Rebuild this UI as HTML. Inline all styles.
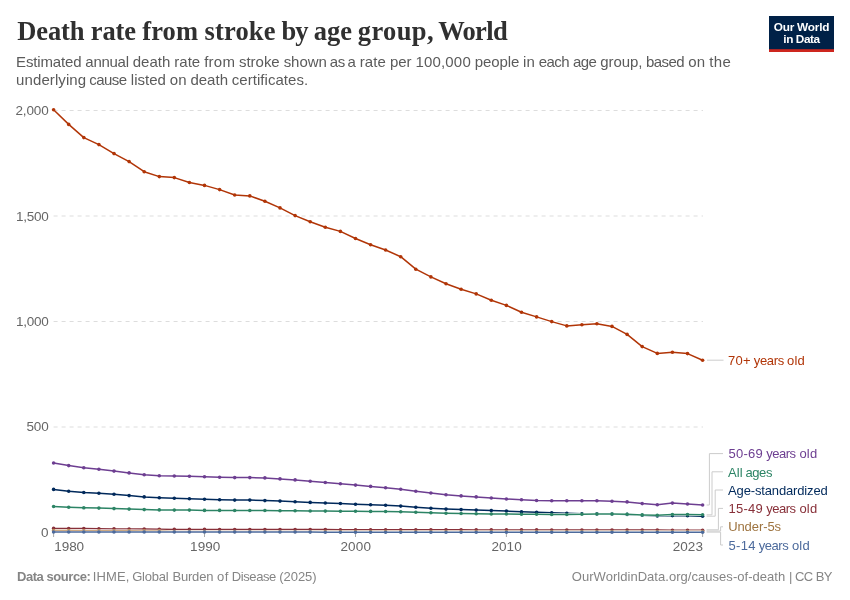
<!DOCTYPE html>
<html lang="en"><head><meta charset="utf-8"><title>Death rate from stroke by age group, World</title>
<style>html,body{margin:0;padding:0;background:#fff}body{width:850px;height:600px;overflow:hidden}svg text{white-space:pre}</style>
</head><body>
<svg width="850" height="600" viewBox="0 0 850 600" style="display:block;font-family:'Liberation Sans', sans-serif">
<rect width="850" height="600" fill="#fff"/>
<rect x="769" y="16" width="65" height="36" fill="#002147"/><rect x="769" y="49.2" width="65" height="2.8" fill="#CE261E"/>
<text x="801.5" y="30.6" text-anchor="middle" font-weight="700" font-size="11.8" fill="#fff" letter-spacing="-0.2">Our World</text>
<text x="801.5" y="42.6" text-anchor="middle" font-weight="700" font-size="11.8" fill="#fff" letter-spacing="-0.42">in Data</text>
<line x1="53.6" x2="703" y1="110.5" y2="110.5" stroke="#ddd" stroke-width="1" stroke-dasharray="4,4"/>
<line x1="53.6" x2="703" y1="216" y2="216" stroke="#ddd" stroke-width="1" stroke-dasharray="4,4"/>
<line x1="53.6" x2="703" y1="321.5" y2="321.5" stroke="#ddd" stroke-width="1" stroke-dasharray="4,4"/>
<line x1="53.6" x2="703" y1="427" y2="427" stroke="#ddd" stroke-width="1" stroke-dasharray="4,4"/>
<line x1="53.6" x2="703" y1="532.5" y2="532.5" stroke="#999" stroke-width="1"/>
<line x1="53.6" x2="53.6" y1="532.5" y2="537" stroke="#aaa" stroke-width="1"/>
<line x1="204.5" x2="204.5" y1="532.5" y2="537" stroke="#aaa" stroke-width="1"/>
<line x1="355.5" x2="355.5" y1="532.5" y2="537" stroke="#aaa" stroke-width="1"/>
<line x1="506.4" x2="506.4" y1="532.5" y2="537" stroke="#aaa" stroke-width="1"/>
<line x1="702.6" x2="702.6" y1="532.5" y2="537" stroke="#aaa" stroke-width="1"/>
<path d="M707,360.2H723.5" fill="none" stroke="#ccc" stroke-width="1"/>
<path d="M706.6,505H709.4V453.6H723" fill="none" stroke="#ccc" stroke-width="1"/>
<path d="M706.6,514.8H712V471.8H723" fill="none" stroke="#ccc" stroke-width="1"/>
<path d="M706.6,516.2H715.2V490H723" fill="none" stroke="#ccc" stroke-width="1"/>
<path d="M706.6,529.8H718.4V508.4H723" fill="none" stroke="#ccc" stroke-width="1"/>
<path d="M706.6,531H720.6V526.8H723" fill="none" stroke="#ccc" stroke-width="1"/>
<path d="M706.6,532.1H720.6V545H723" fill="none" stroke="#ccc" stroke-width="1"/>
<g fill="none" stroke-linejoin="round"><polyline points="53.6,109.8 68.7,124.4 83.8,137.6 98.9,144.6 114.0,153.6 129.1,161.6 144.2,171.7 159.3,176.6 174.3,177.6 189.4,182.5 204.5,185.4 219.6,189.6 234.7,195.0 249.8,195.9 264.9,201.3 280.0,207.9 295.1,215.6 310.2,221.8 325.3,227.2 340.4,231.4 355.5,238.5 370.6,244.8 385.6,250.0 400.7,256.7 415.8,269.2 430.9,276.9 446.0,283.8 461.1,289.2 476.2,293.9 491.3,300.2 506.4,305.4 521.5,312.2 536.6,316.9 551.7,321.6 566.8,325.9 581.9,324.7 596.9,323.8 612.0,326.4 627.1,334.4 642.2,346.6 657.3,353.4 672.4,352.2 687.5,353.6 702.6,360.2" stroke="#fff" stroke-width="2.5"/><polyline points="53.6,109.8 68.7,124.4 83.8,137.6 98.9,144.6 114.0,153.6 129.1,161.6 144.2,171.7 159.3,176.6 174.3,177.6 189.4,182.5 204.5,185.4 219.6,189.6 234.7,195.0 249.8,195.9 264.9,201.3 280.0,207.9 295.1,215.6 310.2,221.8 325.3,227.2 340.4,231.4 355.5,238.5 370.6,244.8 385.6,250.0 400.7,256.7 415.8,269.2 430.9,276.9 446.0,283.8 461.1,289.2 476.2,293.9 491.3,300.2 506.4,305.4 521.5,312.2 536.6,316.9 551.7,321.6 566.8,325.9 581.9,324.7 596.9,323.8 612.0,326.4 627.1,334.4 642.2,346.6 657.3,353.4 672.4,352.2 687.5,353.6 702.6,360.2" stroke="#B13507" stroke-width="1.5"/></g>
<g fill="#B13507"><circle cx="53.6" cy="109.8" r="1.8"/><circle cx="68.7" cy="124.4" r="1.8"/><circle cx="83.8" cy="137.6" r="1.8"/><circle cx="98.9" cy="144.6" r="1.8"/><circle cx="114.0" cy="153.6" r="1.8"/><circle cx="129.1" cy="161.6" r="1.8"/><circle cx="144.2" cy="171.7" r="1.8"/><circle cx="159.3" cy="176.6" r="1.8"/><circle cx="174.3" cy="177.6" r="1.8"/><circle cx="189.4" cy="182.5" r="1.8"/><circle cx="204.5" cy="185.4" r="1.8"/><circle cx="219.6" cy="189.6" r="1.8"/><circle cx="234.7" cy="195.0" r="1.8"/><circle cx="249.8" cy="195.9" r="1.8"/><circle cx="264.9" cy="201.3" r="1.8"/><circle cx="280.0" cy="207.9" r="1.8"/><circle cx="295.1" cy="215.6" r="1.8"/><circle cx="310.2" cy="221.8" r="1.8"/><circle cx="325.3" cy="227.2" r="1.8"/><circle cx="340.4" cy="231.4" r="1.8"/><circle cx="355.5" cy="238.5" r="1.8"/><circle cx="370.6" cy="244.8" r="1.8"/><circle cx="385.6" cy="250.0" r="1.8"/><circle cx="400.7" cy="256.7" r="1.8"/><circle cx="415.8" cy="269.2" r="1.8"/><circle cx="430.9" cy="276.9" r="1.8"/><circle cx="446.0" cy="283.8" r="1.8"/><circle cx="461.1" cy="289.2" r="1.8"/><circle cx="476.2" cy="293.9" r="1.8"/><circle cx="491.3" cy="300.2" r="1.8"/><circle cx="506.4" cy="305.4" r="1.8"/><circle cx="521.5" cy="312.2" r="1.8"/><circle cx="536.6" cy="316.9" r="1.8"/><circle cx="551.7" cy="321.6" r="1.8"/><circle cx="566.8" cy="325.9" r="1.8"/><circle cx="581.9" cy="324.7" r="1.8"/><circle cx="596.9" cy="323.8" r="1.8"/><circle cx="612.0" cy="326.4" r="1.8"/><circle cx="627.1" cy="334.4" r="1.8"/><circle cx="642.2" cy="346.6" r="1.8"/><circle cx="657.3" cy="353.4" r="1.8"/><circle cx="672.4" cy="352.2" r="1.8"/><circle cx="687.5" cy="353.6" r="1.8"/><circle cx="702.6" cy="360.2" r="1.8"/></g>
<g fill="none" stroke-linejoin="round"><polyline points="53.6,463.0 68.7,465.6 83.8,467.7 98.9,469.2 114.0,471.1 129.1,472.9 144.2,474.7 159.3,475.7 174.3,476.0 189.4,476.2 204.5,476.7 219.6,477.2 234.7,477.6 249.8,477.6 264.9,477.9 280.0,478.9 295.1,479.9 310.2,481.2 325.3,482.5 340.4,483.8 355.5,485.1 370.6,486.4 385.6,487.7 400.7,489.2 415.8,491.2 430.9,493.0 446.0,494.8 461.1,495.9 476.2,496.9 491.3,498.0 506.4,499.0 521.5,499.8 536.6,500.5 551.7,500.8 566.8,500.8 581.9,500.8 596.9,500.8 612.0,501.2 627.1,501.9 642.2,503.6 657.3,504.7 672.4,503.1 687.5,504.0 702.6,505.0" stroke="#fff" stroke-width="2.5"/><polyline points="53.6,463.0 68.7,465.6 83.8,467.7 98.9,469.2 114.0,471.1 129.1,472.9 144.2,474.7 159.3,475.7 174.3,476.0 189.4,476.2 204.5,476.7 219.6,477.2 234.7,477.6 249.8,477.6 264.9,477.9 280.0,478.9 295.1,479.9 310.2,481.2 325.3,482.5 340.4,483.8 355.5,485.1 370.6,486.4 385.6,487.7 400.7,489.2 415.8,491.2 430.9,493.0 446.0,494.8 461.1,495.9 476.2,496.9 491.3,498.0 506.4,499.0 521.5,499.8 536.6,500.5 551.7,500.8 566.8,500.8 581.9,500.8 596.9,500.8 612.0,501.2 627.1,501.9 642.2,503.6 657.3,504.7 672.4,503.1 687.5,504.0 702.6,505.0" stroke="#6D3E91" stroke-width="1.5"/></g>
<g fill="#6D3E91"><circle cx="53.6" cy="463.0" r="1.8"/><circle cx="68.7" cy="465.6" r="1.8"/><circle cx="83.8" cy="467.7" r="1.8"/><circle cx="98.9" cy="469.2" r="1.8"/><circle cx="114.0" cy="471.1" r="1.8"/><circle cx="129.1" cy="472.9" r="1.8"/><circle cx="144.2" cy="474.7" r="1.8"/><circle cx="159.3" cy="475.7" r="1.8"/><circle cx="174.3" cy="476.0" r="1.8"/><circle cx="189.4" cy="476.2" r="1.8"/><circle cx="204.5" cy="476.7" r="1.8"/><circle cx="219.6" cy="477.2" r="1.8"/><circle cx="234.7" cy="477.6" r="1.8"/><circle cx="249.8" cy="477.6" r="1.8"/><circle cx="264.9" cy="477.9" r="1.8"/><circle cx="280.0" cy="478.9" r="1.8"/><circle cx="295.1" cy="479.9" r="1.8"/><circle cx="310.2" cy="481.2" r="1.8"/><circle cx="325.3" cy="482.5" r="1.8"/><circle cx="340.4" cy="483.8" r="1.8"/><circle cx="355.5" cy="485.1" r="1.8"/><circle cx="370.6" cy="486.4" r="1.8"/><circle cx="385.6" cy="487.7" r="1.8"/><circle cx="400.7" cy="489.2" r="1.8"/><circle cx="415.8" cy="491.2" r="1.8"/><circle cx="430.9" cy="493.0" r="1.8"/><circle cx="446.0" cy="494.8" r="1.8"/><circle cx="461.1" cy="495.9" r="1.8"/><circle cx="476.2" cy="496.9" r="1.8"/><circle cx="491.3" cy="498.0" r="1.8"/><circle cx="506.4" cy="499.0" r="1.8"/><circle cx="521.5" cy="499.8" r="1.8"/><circle cx="536.6" cy="500.5" r="1.8"/><circle cx="551.7" cy="500.8" r="1.8"/><circle cx="566.8" cy="500.8" r="1.8"/><circle cx="581.9" cy="500.8" r="1.8"/><circle cx="596.9" cy="500.8" r="1.8"/><circle cx="612.0" cy="501.2" r="1.8"/><circle cx="627.1" cy="501.9" r="1.8"/><circle cx="642.2" cy="503.6" r="1.8"/><circle cx="657.3" cy="504.7" r="1.8"/><circle cx="672.4" cy="503.1" r="1.8"/><circle cx="687.5" cy="504.0" r="1.8"/><circle cx="702.6" cy="505.0" r="1.8"/></g>
<g fill="none" stroke-linejoin="round"><polyline points="53.6,489.4 68.7,491.2 83.8,492.5 98.9,493.3 114.0,494.3 129.1,495.6 144.2,496.9 159.3,497.7 174.3,498.2 189.4,498.7 204.5,499.2 219.6,499.7 234.7,500.1 249.8,500.1 264.9,500.6 280.0,501.1 295.1,501.7 310.2,502.4 325.3,503.0 340.4,503.5 355.5,504.3 370.6,504.8 385.6,505.3 400.7,506.1 415.8,507.3 430.9,508.3 446.0,509.1 461.1,509.6 476.2,510.1 491.3,510.6 506.4,511.1 521.5,511.7 536.6,512.2 551.7,512.8 566.8,513.3 581.9,513.7 596.9,513.9 612.0,514.0 627.1,514.4 642.2,515.2 657.3,515.9 672.4,515.6 687.5,515.7 702.6,516.2" stroke="#fff" stroke-width="2.5"/><polyline points="53.6,489.4 68.7,491.2 83.8,492.5 98.9,493.3 114.0,494.3 129.1,495.6 144.2,496.9 159.3,497.7 174.3,498.2 189.4,498.7 204.5,499.2 219.6,499.7 234.7,500.1 249.8,500.1 264.9,500.6 280.0,501.1 295.1,501.7 310.2,502.4 325.3,503.0 340.4,503.5 355.5,504.3 370.6,504.8 385.6,505.3 400.7,506.1 415.8,507.3 430.9,508.3 446.0,509.1 461.1,509.6 476.2,510.1 491.3,510.6 506.4,511.1 521.5,511.7 536.6,512.2 551.7,512.8 566.8,513.3 581.9,513.7 596.9,513.9 612.0,514.0 627.1,514.4 642.2,515.2 657.3,515.9 672.4,515.6 687.5,515.7 702.6,516.2" stroke="#00295B" stroke-width="1.5"/></g>
<g fill="#00295B"><circle cx="53.6" cy="489.4" r="1.8"/><circle cx="68.7" cy="491.2" r="1.8"/><circle cx="83.8" cy="492.5" r="1.8"/><circle cx="98.9" cy="493.3" r="1.8"/><circle cx="114.0" cy="494.3" r="1.8"/><circle cx="129.1" cy="495.6" r="1.8"/><circle cx="144.2" cy="496.9" r="1.8"/><circle cx="159.3" cy="497.7" r="1.8"/><circle cx="174.3" cy="498.2" r="1.8"/><circle cx="189.4" cy="498.7" r="1.8"/><circle cx="204.5" cy="499.2" r="1.8"/><circle cx="219.6" cy="499.7" r="1.8"/><circle cx="234.7" cy="500.1" r="1.8"/><circle cx="249.8" cy="500.1" r="1.8"/><circle cx="264.9" cy="500.6" r="1.8"/><circle cx="280.0" cy="501.1" r="1.8"/><circle cx="295.1" cy="501.7" r="1.8"/><circle cx="310.2" cy="502.4" r="1.8"/><circle cx="325.3" cy="503.0" r="1.8"/><circle cx="340.4" cy="503.5" r="1.8"/><circle cx="355.5" cy="504.3" r="1.8"/><circle cx="370.6" cy="504.8" r="1.8"/><circle cx="385.6" cy="505.3" r="1.8"/><circle cx="400.7" cy="506.1" r="1.8"/><circle cx="415.8" cy="507.3" r="1.8"/><circle cx="430.9" cy="508.3" r="1.8"/><circle cx="446.0" cy="509.1" r="1.8"/><circle cx="461.1" cy="509.6" r="1.8"/><circle cx="476.2" cy="510.1" r="1.8"/><circle cx="491.3" cy="510.6" r="1.8"/><circle cx="506.4" cy="511.1" r="1.8"/><circle cx="521.5" cy="511.7" r="1.8"/><circle cx="536.6" cy="512.2" r="1.8"/><circle cx="551.7" cy="512.8" r="1.8"/><circle cx="566.8" cy="513.3" r="1.8"/><circle cx="581.9" cy="513.7" r="1.8"/><circle cx="596.9" cy="513.9" r="1.8"/><circle cx="612.0" cy="514.0" r="1.8"/><circle cx="627.1" cy="514.4" r="1.8"/><circle cx="642.2" cy="515.2" r="1.8"/><circle cx="657.3" cy="515.9" r="1.8"/><circle cx="672.4" cy="515.6" r="1.8"/><circle cx="687.5" cy="515.7" r="1.8"/><circle cx="702.6" cy="516.2" r="1.8"/></g>
<g fill="none" stroke-linejoin="round"><polyline points="53.6,506.5 68.7,507.3 83.8,507.8 98.9,508.1 114.0,508.6 129.1,509.1 144.2,509.6 159.3,509.9 174.3,510.1 189.4,510.1 204.5,510.4 219.6,510.4 234.7,510.5 249.8,510.5 264.9,510.5 280.0,510.7 295.1,510.8 310.2,511.0 325.3,511.1 340.4,511.2 355.5,511.2 370.6,511.4 385.6,511.5 400.7,511.7 415.8,512.2 430.9,512.7 446.0,513.2 461.1,513.5 476.2,513.7 491.3,514.0 506.4,514.0 521.5,514.3 536.6,514.3 551.7,514.5 566.8,514.5 581.9,514.3 596.9,514.0 612.0,514.0 627.1,514.3 642.2,514.9 657.3,515.2 672.4,514.6 687.5,514.6 702.6,514.8" stroke="#fff" stroke-width="2.5"/><polyline points="53.6,506.5 68.7,507.3 83.8,507.8 98.9,508.1 114.0,508.6 129.1,509.1 144.2,509.6 159.3,509.9 174.3,510.1 189.4,510.1 204.5,510.4 219.6,510.4 234.7,510.5 249.8,510.5 264.9,510.5 280.0,510.7 295.1,510.8 310.2,511.0 325.3,511.1 340.4,511.2 355.5,511.2 370.6,511.4 385.6,511.5 400.7,511.7 415.8,512.2 430.9,512.7 446.0,513.2 461.1,513.5 476.2,513.7 491.3,514.0 506.4,514.0 521.5,514.3 536.6,514.3 551.7,514.5 566.8,514.5 581.9,514.3 596.9,514.0 612.0,514.0 627.1,514.3 642.2,514.9 657.3,515.2 672.4,514.6 687.5,514.6 702.6,514.8" stroke="#2C8465" stroke-width="1.5"/></g>
<g fill="#2C8465"><circle cx="53.6" cy="506.5" r="1.8"/><circle cx="68.7" cy="507.3" r="1.8"/><circle cx="83.8" cy="507.8" r="1.8"/><circle cx="98.9" cy="508.1" r="1.8"/><circle cx="114.0" cy="508.6" r="1.8"/><circle cx="129.1" cy="509.1" r="1.8"/><circle cx="144.2" cy="509.6" r="1.8"/><circle cx="159.3" cy="509.9" r="1.8"/><circle cx="174.3" cy="510.1" r="1.8"/><circle cx="189.4" cy="510.1" r="1.8"/><circle cx="204.5" cy="510.4" r="1.8"/><circle cx="219.6" cy="510.4" r="1.8"/><circle cx="234.7" cy="510.5" r="1.8"/><circle cx="249.8" cy="510.5" r="1.8"/><circle cx="264.9" cy="510.5" r="1.8"/><circle cx="280.0" cy="510.7" r="1.8"/><circle cx="295.1" cy="510.8" r="1.8"/><circle cx="310.2" cy="511.0" r="1.8"/><circle cx="325.3" cy="511.1" r="1.8"/><circle cx="340.4" cy="511.2" r="1.8"/><circle cx="355.5" cy="511.2" r="1.8"/><circle cx="370.6" cy="511.4" r="1.8"/><circle cx="385.6" cy="511.5" r="1.8"/><circle cx="400.7" cy="511.7" r="1.8"/><circle cx="415.8" cy="512.2" r="1.8"/><circle cx="430.9" cy="512.7" r="1.8"/><circle cx="446.0" cy="513.2" r="1.8"/><circle cx="461.1" cy="513.5" r="1.8"/><circle cx="476.2" cy="513.7" r="1.8"/><circle cx="491.3" cy="514.0" r="1.8"/><circle cx="506.4" cy="514.0" r="1.8"/><circle cx="521.5" cy="514.3" r="1.8"/><circle cx="536.6" cy="514.3" r="1.8"/><circle cx="551.7" cy="514.5" r="1.8"/><circle cx="566.8" cy="514.5" r="1.8"/><circle cx="581.9" cy="514.3" r="1.8"/><circle cx="596.9" cy="514.0" r="1.8"/><circle cx="612.0" cy="514.0" r="1.8"/><circle cx="627.1" cy="514.3" r="1.8"/><circle cx="642.2" cy="514.9" r="1.8"/><circle cx="657.3" cy="515.2" r="1.8"/><circle cx="672.4" cy="514.6" r="1.8"/><circle cx="687.5" cy="514.6" r="1.8"/><circle cx="702.6" cy="514.8" r="1.8"/></g>
<g fill="none" stroke-linejoin="round"><polyline points="53.6,528.4 68.7,528.5 83.8,528.6 98.9,528.8 114.0,528.9 129.1,529.0 144.2,529.1 159.3,529.3 174.3,529.4 189.4,529.4 204.5,529.4 219.6,529.5 234.7,529.5 249.8,529.5 264.9,529.5 280.0,529.6 295.1,529.6 310.2,529.6 325.3,529.6 340.4,529.7 355.5,529.7 370.6,529.7 385.6,529.7 400.7,529.7 415.8,529.8 430.9,529.8 446.0,529.8 461.1,529.8 476.2,529.9 491.3,529.9 506.4,529.9 521.5,529.9 536.6,529.9 551.7,530.0 566.8,530.0 581.9,530.0 596.9,530.0 612.0,530.1 627.1,530.1 642.2,530.1 657.3,530.1 672.4,530.2 687.5,530.2 702.6,530.2" stroke="#fff" stroke-width="2.5"/><polyline points="53.6,528.4 68.7,528.5 83.8,528.6 98.9,528.8 114.0,528.9 129.1,529.0 144.2,529.1 159.3,529.3 174.3,529.4 189.4,529.4 204.5,529.4 219.6,529.5 234.7,529.5 249.8,529.5 264.9,529.5 280.0,529.6 295.1,529.6 310.2,529.6 325.3,529.6 340.4,529.7 355.5,529.7 370.6,529.7 385.6,529.7 400.7,529.7 415.8,529.8 430.9,529.8 446.0,529.8 461.1,529.8 476.2,529.9 491.3,529.9 506.4,529.9 521.5,529.9 536.6,529.9 551.7,530.0 566.8,530.0 581.9,530.0 596.9,530.0 612.0,530.1 627.1,530.1 642.2,530.1 657.3,530.1 672.4,530.2 687.5,530.2 702.6,530.2" stroke="#883039" stroke-width="1.5"/></g>
<g fill="#883039"><circle cx="53.6" cy="528.4" r="1.8"/><circle cx="68.7" cy="528.5" r="1.8"/><circle cx="83.8" cy="528.6" r="1.8"/><circle cx="98.9" cy="528.8" r="1.8"/><circle cx="114.0" cy="528.9" r="1.8"/><circle cx="129.1" cy="529.0" r="1.8"/><circle cx="144.2" cy="529.1" r="1.8"/><circle cx="159.3" cy="529.3" r="1.8"/><circle cx="174.3" cy="529.4" r="1.8"/><circle cx="189.4" cy="529.4" r="1.8"/><circle cx="204.5" cy="529.4" r="1.8"/><circle cx="219.6" cy="529.5" r="1.8"/><circle cx="234.7" cy="529.5" r="1.8"/><circle cx="249.8" cy="529.5" r="1.8"/><circle cx="264.9" cy="529.5" r="1.8"/><circle cx="280.0" cy="529.6" r="1.8"/><circle cx="295.1" cy="529.6" r="1.8"/><circle cx="310.2" cy="529.6" r="1.8"/><circle cx="325.3" cy="529.6" r="1.8"/><circle cx="340.4" cy="529.7" r="1.8"/><circle cx="355.5" cy="529.7" r="1.8"/><circle cx="370.6" cy="529.7" r="1.8"/><circle cx="385.6" cy="529.7" r="1.8"/><circle cx="400.7" cy="529.7" r="1.8"/><circle cx="415.8" cy="529.8" r="1.8"/><circle cx="430.9" cy="529.8" r="1.8"/><circle cx="446.0" cy="529.8" r="1.8"/><circle cx="461.1" cy="529.8" r="1.8"/><circle cx="476.2" cy="529.9" r="1.8"/><circle cx="491.3" cy="529.9" r="1.8"/><circle cx="506.4" cy="529.9" r="1.8"/><circle cx="521.5" cy="529.9" r="1.8"/><circle cx="536.6" cy="529.9" r="1.8"/><circle cx="551.7" cy="530.0" r="1.8"/><circle cx="566.8" cy="530.0" r="1.8"/><circle cx="581.9" cy="530.0" r="1.8"/><circle cx="596.9" cy="530.0" r="1.8"/><circle cx="612.0" cy="530.1" r="1.8"/><circle cx="627.1" cy="530.1" r="1.8"/><circle cx="642.2" cy="530.1" r="1.8"/><circle cx="657.3" cy="530.1" r="1.8"/><circle cx="672.4" cy="530.2" r="1.8"/><circle cx="687.5" cy="530.2" r="1.8"/><circle cx="702.6" cy="530.2" r="1.8"/></g>
<g fill="none" stroke-linejoin="round"><polyline points="53.6,530.6 68.7,530.6 83.8,530.7 98.9,530.7 114.0,530.8 129.1,530.8 144.2,530.9 159.3,530.9 174.3,531.5 189.4,531.6 204.5,531.6 219.6,531.6 234.7,531.6 249.8,531.6 264.9,531.6 280.0,531.6 295.1,531.6 310.2,531.6 325.3,531.6 340.4,531.6 355.5,531.6 370.6,531.6 385.6,531.6 400.7,531.6 415.8,531.6 430.9,531.6 446.0,531.6 461.1,531.6 476.2,531.6 491.3,531.6 506.4,531.6 521.5,531.6 536.6,531.6 551.7,531.6 566.8,531.6 581.9,531.6 596.9,531.6 612.0,531.6 627.1,531.6 642.2,531.6 657.3,531.6 672.4,531.6 687.5,531.6 702.6,531.6" stroke="#fff" stroke-width="2.5"/><polyline points="53.6,530.6 68.7,530.6 83.8,530.7 98.9,530.7 114.0,530.8 129.1,530.8 144.2,530.9 159.3,530.9 174.3,531.5 189.4,531.6 204.5,531.6 219.6,531.6 234.7,531.6 249.8,531.6 264.9,531.6 280.0,531.6 295.1,531.6 310.2,531.6 325.3,531.6 340.4,531.6 355.5,531.6 370.6,531.6 385.6,531.6 400.7,531.6 415.8,531.6 430.9,531.6 446.0,531.6 461.1,531.6 476.2,531.6 491.3,531.6 506.4,531.6 521.5,531.6 536.6,531.6 551.7,531.6 566.8,531.6 581.9,531.6 596.9,531.6 612.0,531.6 627.1,531.6 642.2,531.6 657.3,531.6 672.4,531.6 687.5,531.6 702.6,531.6" stroke="#BC8E5A" stroke-width="1.5"/></g>
<g fill="#BC8E5A"><circle cx="53.6" cy="530.6" r="1.8"/><circle cx="68.7" cy="530.6" r="1.8"/><circle cx="83.8" cy="530.7" r="1.8"/><circle cx="98.9" cy="530.7" r="1.8"/><circle cx="114.0" cy="530.8" r="1.8"/><circle cx="129.1" cy="530.8" r="1.8"/><circle cx="144.2" cy="530.9" r="1.8"/><circle cx="159.3" cy="530.9" r="1.8"/><circle cx="174.3" cy="531.5" r="1.8"/><circle cx="189.4" cy="531.6" r="1.8"/><circle cx="204.5" cy="531.6" r="1.8"/><circle cx="219.6" cy="531.6" r="1.8"/><circle cx="234.7" cy="531.6" r="1.8"/><circle cx="249.8" cy="531.6" r="1.8"/><circle cx="264.9" cy="531.6" r="1.8"/><circle cx="280.0" cy="531.6" r="1.8"/><circle cx="295.1" cy="531.6" r="1.8"/><circle cx="310.2" cy="531.6" r="1.8"/><circle cx="325.3" cy="531.6" r="1.8"/><circle cx="340.4" cy="531.6" r="1.8"/><circle cx="355.5" cy="531.6" r="1.8"/><circle cx="370.6" cy="531.6" r="1.8"/><circle cx="385.6" cy="531.6" r="1.8"/><circle cx="400.7" cy="531.6" r="1.8"/><circle cx="415.8" cy="531.6" r="1.8"/><circle cx="430.9" cy="531.6" r="1.8"/><circle cx="446.0" cy="531.6" r="1.8"/><circle cx="461.1" cy="531.6" r="1.8"/><circle cx="476.2" cy="531.6" r="1.8"/><circle cx="491.3" cy="531.6" r="1.8"/><circle cx="506.4" cy="531.6" r="1.8"/><circle cx="521.5" cy="531.6" r="1.8"/><circle cx="536.6" cy="531.6" r="1.8"/><circle cx="551.7" cy="531.6" r="1.8"/><circle cx="566.8" cy="531.6" r="1.8"/><circle cx="581.9" cy="531.6" r="1.8"/><circle cx="596.9" cy="531.6" r="1.8"/><circle cx="612.0" cy="531.6" r="1.8"/><circle cx="627.1" cy="531.6" r="1.8"/><circle cx="642.2" cy="531.6" r="1.8"/><circle cx="657.3" cy="531.6" r="1.8"/><circle cx="672.4" cy="531.6" r="1.8"/><circle cx="687.5" cy="531.6" r="1.8"/><circle cx="702.6" cy="531.6" r="1.8"/></g>
<g fill="none" stroke-linejoin="round"><polyline points="53.6,532.0 68.7,532.0 83.8,532.0 98.9,532.0 114.0,532.0 129.1,532.0 144.2,532.0 159.3,532.0 174.3,532.0 189.4,532.0 204.5,532.0 219.6,532.0 234.7,532.0 249.8,532.0 264.9,532.0 280.0,532.0 295.1,532.0 310.2,532.1 325.3,532.3 340.4,532.3 355.5,532.3 370.6,532.3 385.6,532.3 400.7,532.3 415.8,532.3 430.9,532.3 446.0,532.3 461.1,532.3 476.2,532.3 491.3,532.3 506.4,532.3 521.5,532.3 536.6,532.3 551.7,532.3 566.8,532.3 581.9,532.3 596.9,532.3 612.0,532.3 627.1,532.3 642.2,532.3 657.3,532.3 672.4,532.3 687.5,532.3 702.6,532.3" stroke="#fff" stroke-width="2.5"/><polyline points="53.6,532.0 68.7,532.0 83.8,532.0 98.9,532.0 114.0,532.0 129.1,532.0 144.2,532.0 159.3,532.0 174.3,532.0 189.4,532.0 204.5,532.0 219.6,532.0 234.7,532.0 249.8,532.0 264.9,532.0 280.0,532.0 295.1,532.0 310.2,532.1 325.3,532.3 340.4,532.3 355.5,532.3 370.6,532.3 385.6,532.3 400.7,532.3 415.8,532.3 430.9,532.3 446.0,532.3 461.1,532.3 476.2,532.3 491.3,532.3 506.4,532.3 521.5,532.3 536.6,532.3 551.7,532.3 566.8,532.3 581.9,532.3 596.9,532.3 612.0,532.3 627.1,532.3 642.2,532.3 657.3,532.3 672.4,532.3 687.5,532.3 702.6,532.3" stroke="#4C6A9C" stroke-width="1.5"/></g>
<g fill="#4C6A9C"><circle cx="53.6" cy="532.0" r="1.8"/><circle cx="68.7" cy="532.0" r="1.8"/><circle cx="83.8" cy="532.0" r="1.8"/><circle cx="98.9" cy="532.0" r="1.8"/><circle cx="114.0" cy="532.0" r="1.8"/><circle cx="129.1" cy="532.0" r="1.8"/><circle cx="144.2" cy="532.0" r="1.8"/><circle cx="159.3" cy="532.0" r="1.8"/><circle cx="174.3" cy="532.0" r="1.8"/><circle cx="189.4" cy="532.0" r="1.8"/><circle cx="204.5" cy="532.0" r="1.8"/><circle cx="219.6" cy="532.0" r="1.8"/><circle cx="234.7" cy="532.0" r="1.8"/><circle cx="249.8" cy="532.0" r="1.8"/><circle cx="264.9" cy="532.0" r="1.8"/><circle cx="280.0" cy="532.0" r="1.8"/><circle cx="295.1" cy="532.0" r="1.8"/><circle cx="310.2" cy="532.1" r="1.8"/><circle cx="325.3" cy="532.3" r="1.8"/><circle cx="340.4" cy="532.3" r="1.8"/><circle cx="355.5" cy="532.3" r="1.8"/><circle cx="370.6" cy="532.3" r="1.8"/><circle cx="385.6" cy="532.3" r="1.8"/><circle cx="400.7" cy="532.3" r="1.8"/><circle cx="415.8" cy="532.3" r="1.8"/><circle cx="430.9" cy="532.3" r="1.8"/><circle cx="446.0" cy="532.3" r="1.8"/><circle cx="461.1" cy="532.3" r="1.8"/><circle cx="476.2" cy="532.3" r="1.8"/><circle cx="491.3" cy="532.3" r="1.8"/><circle cx="506.4" cy="532.3" r="1.8"/><circle cx="521.5" cy="532.3" r="1.8"/><circle cx="536.6" cy="532.3" r="1.8"/><circle cx="551.7" cy="532.3" r="1.8"/><circle cx="566.8" cy="532.3" r="1.8"/><circle cx="581.9" cy="532.3" r="1.8"/><circle cx="596.9" cy="532.3" r="1.8"/><circle cx="612.0" cy="532.3" r="1.8"/><circle cx="627.1" cy="532.3" r="1.8"/><circle cx="642.2" cy="532.3" r="1.8"/><circle cx="657.3" cy="532.3" r="1.8"/><circle cx="672.4" cy="532.3" r="1.8"/><circle cx="687.5" cy="532.3" r="1.8"/><circle cx="702.6" cy="532.3" r="1.8"/></g>
<text id="title" y="40" font-family="'Liberation Serif', serif" font-weight="700" font-size="26.5" fill="#303030"><tspan x="17.14" letter-spacing="-0.065">Death </tspan><tspan x="90.82" letter-spacing="-0.137">rate </tspan><tspan x="142.28" letter-spacing="0.112">from </tspan><tspan x="204.59" letter-spacing="0.134">stroke </tspan><tspan x="281.58" letter-spacing="-0.954">by </tspan><tspan x="313.68" letter-spacing="0.068">age </tspan><tspan x="357.81" letter-spacing="0.373">group, </tspan><tspan x="438.15" letter-spacing="-0.662">World</tspan></text>
<text id="sub1" y="67" font-size="15" fill="#5b5b5b"><tspan x="16.11" letter-spacing="-0.157">Estimated </tspan><tspan x="85.37" letter-spacing="-0.277">annual </tspan><tspan x="132.63" letter-spacing="0.035">death </tspan><tspan x="174.20" letter-spacing="0.054">rate </tspan><tspan x="204.18" letter-spacing="0.259">from </tspan><tspan x="239.00" letter-spacing="-0.026">stroke </tspan><tspan x="283.63" letter-spacing="-0.024">shown </tspan><tspan x="329.84" letter-spacing="-0.540">as </tspan><tspan x="347.47">a </tspan><tspan x="359.86" letter-spacing="0.020">rate </tspan><tspan x="390.09" letter-spacing="-0.122">per </tspan><tspan x="415.51" letter-spacing="0.167">100,000 </tspan><tspan x="474.68" letter-spacing="-0.087">people </tspan><tspan x="522.96" letter-spacing="0.254">in </tspan><tspan x="538.70" letter-spacing="-0.520">each </tspan><tspan x="572.96" letter-spacing="-0.540">age </tspan><tspan x="600.27" letter-spacing="-0.091">group, </tspan><tspan x="645.88" letter-spacing="-0.540">based </tspan><tspan x="688.33" letter-spacing="-0.044">on </tspan><tspan x="709.30" letter-spacing="0.302">the</tspan></text>
<text id="sub2" y="85" font-size="15" fill="#5b5b5b"><tspan x="16.10" letter-spacing="0.089">underlying </tspan><tspan x="89.25" letter-spacing="-0.540">cause </tspan><tspan x="130.87" letter-spacing="-0.003">listed </tspan><tspan x="169.69" letter-spacing="0.200">on </tspan><tspan x="190.38" letter-spacing="0.017">death </tspan><tspan x="231.74" letter-spacing="0.048">certificates.</tspan></text>
<text id="y2000" y="115" font-size="13.5" fill="#666"><tspan x="15.45" letter-spacing="-0.142">2,000</tspan></text>
<text id="y1500" y="221" font-size="13.5" fill="#666"><tspan x="16.02" letter-spacing="-0.273">1,500</tspan></text>
<text id="y1000" y="326" font-size="13.5" fill="#666"><tspan x="16.02" letter-spacing="-0.273">1,000</tspan></text>
<text id="y500" y="431" font-size="13.5" fill="#666"><tspan x="26.49" letter-spacing="-0.180">500</tspan></text>
<text id="y0" y="537" font-size="13.5" fill="#666"><tspan x="40.96">0</tspan></text>
<text id="x1980" y="551" font-size="13.5" fill="#666"><tspan x="54.33" letter-spacing="-0.084">1980</tspan></text>
<text id="x1990" y="551" font-size="13.5" fill="#666"><tspan x="190.10" letter-spacing="0.031">1990</tspan></text>
<text id="x2000" y="551" font-size="13.5" fill="#666"><tspan x="340.46" letter-spacing="0.148">2000</tspan></text>
<text id="x2010" y="551" font-size="13.5" fill="#666"><tspan x="491.45" letter-spacing="0.063">2010</tspan></text>
<text id="x2023" y="551" font-size="13.5" fill="#666"><tspan x="672.74" letter-spacing="0.061">2023</tspan></text>
<text id="lab0" y="365" font-size="13" fill="#B13507"><tspan x="728.08" letter-spacing="0.232">70+ </tspan><tspan x="753.79" letter-spacing="-0.356">years </tspan><tspan x="787.07" letter-spacing="0.131">old</tspan></text>
<text id="lab1" y="458" font-size="13" fill="#6D3E91"><tspan x="728.52" letter-spacing="0.217">50-69 </tspan><tspan x="766.16" letter-spacing="-0.468">years </tspan><tspan x="799.39" letter-spacing="0.220">old</tspan></text>
<text id="lab2" y="477" font-size="13" fill="#2C8465"><tspan x="727.95" letter-spacing="0.171">All </tspan><tspan x="745.60" letter-spacing="-0.468">ages</tspan></text>
<text id="lab3" y="495" font-size="13" fill="#00295B"><tspan x="728.03" letter-spacing="-0.143">Age-standardized</tspan></text>
<text id="lab4" y="513" font-size="13" fill="#883039"><tspan x="728.43" letter-spacing="0.263">15-49 </tspan><tspan x="766.14" letter-spacing="-0.468">years </tspan><tspan x="799.40" letter-spacing="0.197">old</tspan></text>
<text id="lab5" y="531" font-size="13" fill="#9E7440"><tspan x="728.15" letter-spacing="-0.082">Under-5s</tspan></text>
<text id="lab6" y="550" font-size="13" fill="#4C6A9C"><tspan x="728.53" letter-spacing="0.308">5-14 </tspan><tspan x="758.76" letter-spacing="-0.459">years </tspan><tspan x="791.91" letter-spacing="0.194">old</tspan></text>
<text id="footl" y="581" font-size="13" fill="#858585"><tspan x="17.07" font-weight="700" letter-spacing="-0.468">Data </tspan><tspan x="46.62" font-weight="700" letter-spacing="-0.468">source: </tspan><tspan x="92.82" letter-spacing="0.090">IHME, </tspan><tspan x="132.23" letter-spacing="-0.212">Global </tspan><tspan x="172.38" letter-spacing="-0.165">Burden </tspan><tspan x="217.06" letter-spacing="0.585">of </tspan><tspan x="231.84" letter-spacing="-0.426">Disease </tspan><tspan x="279.17" letter-spacing="-0.018">(2025)</tspan></text>
<text id="footr" y="581" font-size="13" fill="#858585"><tspan x="571.80" letter-spacing="0.038">OurWorldinData.org/causes-of-death </tspan><tspan x="789.12">| </tspan><tspan x="794.92" letter-spacing="-0.468">CC </tspan><tspan x="815.63" letter-spacing="-0.468">BY</tspan></text>
</svg>
</body></html>
